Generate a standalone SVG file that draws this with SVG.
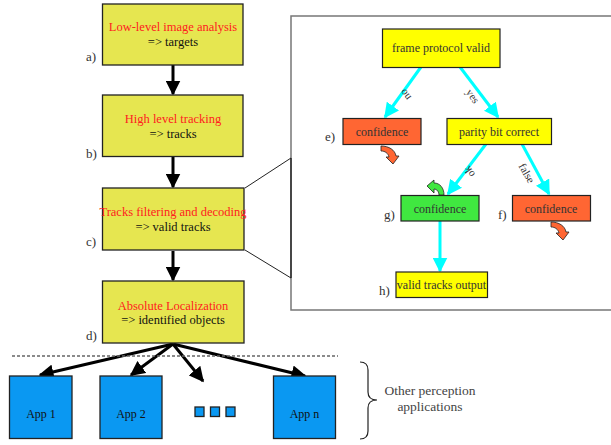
<svg xmlns="http://www.w3.org/2000/svg" width="611" height="445" viewBox="0 0 611 445">
<defs>
<marker id="ab" markerWidth="5" markerHeight="5" refX="4.5" refY="2.5" orient="auto" markerUnits="strokeWidth"><path d="M0,0 L5,2.5 L0,5 Z" fill="#000"/></marker>
<marker id="ac" markerWidth="5" markerHeight="5" refX="4.5" refY="2.5" orient="auto" markerUnits="strokeWidth"><path d="M0,0 L5,2.5 L0,5 Z" fill="#00ffff"/></marker>
<style>
.st{fill:#e6e650;stroke:#222;stroke-width:1.3}
.red{fill:#ff2020;font-size:12.5px;text-anchor:middle}
.blk{fill:#111;font-size:12.5px;text-anchor:middle}
.lbl{fill:#333;font-size:13px}
.dt{fill:#333;font-size:12px;text-anchor:middle}
.rl{fill:#333;font-size:11px;text-anchor:middle;dominant-baseline:central}
.cy{stroke:#00ffff;stroke-width:3;fill:none;marker-end:url(#ac)}
.bk{stroke:#000;stroke-width:3;fill:none;marker-end:url(#ab)}
.app{fill:#0a98f2;stroke:#222;stroke-width:1.3}
.at{fill:#111;font-size:12px;text-anchor:middle}
</style>
</defs>
<g font-family="'Liberation Serif', 'Times New Roman', serif">
<rect width="611" height="445" fill="#fff"/>
<g id="panel">
<path d="M611,16 L291,16 L291,310 L611,310" fill="none" stroke="#777" stroke-width="1.5"/>
<line x1="291" y1="158" x2="291" y2="278" stroke="#333" stroke-width="1.6"/>
<line x1="245" y1="188" x2="291" y2="158" stroke="#222" stroke-width="1"/>
<line x1="245" y1="250" x2="291" y2="278" stroke="#222" stroke-width="1"/>
</g>
<g id="connectors">
<line class="bk" x1="173" y1="65" x2="173" y2="94"/>
<line class="bk" x1="173" y1="157" x2="173" y2="187"/>
<line class="bk" x1="173" y1="251" x2="173" y2="280"/>
<line class="bk" x1="173" y1="344" x2="40" y2="375" stroke-width="2.5"/>
<line class="bk" x1="173" y1="344" x2="131" y2="375" stroke-width="2.5"/>
<line class="bk" x1="173" y1="344" x2="203" y2="381" stroke-width="2.5"/>
<line class="bk" x1="173" y1="344" x2="305" y2="376" stroke-width="2.5"/>
<line class="cy" x1="421" y1="67" x2="385" y2="117"/>
<line class="cy" x1="460" y1="67" x2="498" y2="117"/>
<line class="cy" x1="486" y1="144" x2="448" y2="194"/>
<line class="cy" x1="522" y1="144" x2="549" y2="194"/>
<line class="cy" x1="440" y1="221" x2="440" y2="271"/>
<text class="rl" transform="translate(405,95) rotate(-125)">no</text>
<text class="rl" transform="translate(473,96) rotate(55)">yes</text>
<text class="rl" transform="translate(469,172) rotate(-125)">ok</text>
<text class="rl" transform="translate(527,173) rotate(60)">false</text>
</g>
<g id="a">
<rect class="st" x="102.5" y="4" width="140.5" height="61"/>
<text class="red" x="173" y="31">Low-level image analysis</text>
<text class="blk" x="173" y="46">=&gt; targets</text>
<text class="lbl" x="86" y="61">a)</text>
</g>
<g id="b">
<rect class="st" x="102.5" y="95" width="140.5" height="61.5"/>
<text class="red" x="173" y="123">High level tracking</text>
<text class="blk" x="173" y="138">=&gt; tracks</text>
<text class="lbl" x="86" y="158">b)</text>
</g>
<g id="c">
<rect class="st" x="102.5" y="188" width="141.5" height="62"/>
<text class="red" x="173" y="216">Tracks filtering and decoding</text>
<text class="blk" x="173" y="231">=&gt; valid tracks</text>
<text class="lbl" x="86" y="246">c)</text>
</g>
<g id="d">
<rect class="st" x="102.5" y="281" width="141.5" height="62"/>
<text class="red" x="173" y="310">Absolute Localization</text>
<text class="blk" x="173" y="324">=&gt; identified objects</text>
<text class="lbl" x="86" y="340">d)</text>
</g>
<g id="frame">
<rect x="382.5" y="29" width="117.5" height="38.5" fill="#ffff00" stroke="#222" stroke-width="1.2"/>
<text class="dt" x="441" y="52">frame protocol valid</text>
</g>
<g id="e">
<rect x="343" y="118.5" width="78" height="26" fill="#ff6633" stroke="#222" stroke-width="1.2"/>
<text class="dt" x="382" y="136">confidence</text>
<text class="lbl" x="325" y="141">e)</text>
<path d="M381,146 C389,146 395,150 396,156 L399,156 L393,164 L386,157 L389,157 C388,153 385,151 381,151 Z" fill="#ff6633" stroke="#222" stroke-width="0.8"/>
</g>
<g id="parity">
<rect x="447" y="118.5" width="104.5" height="26" fill="#ffff00" stroke="#222" stroke-width="1.2"/>
<text class="dt" x="499" y="136">parity bit correct</text>
</g>
<g id="g">
<rect x="401" y="195.5" width="78" height="25.5" fill="#40e840" stroke="#222" stroke-width="1.2"/>
<text class="dt" x="440" y="213">confidence</text>
<text class="lbl" x="384" y="219">g)</text>
<path d="M444,195 C444,188 440,183 434,183 L434,180 L427,186 L434,193 L434,189 C437,189 439,192 439,195 Z" fill="#40e840" stroke="#222" stroke-width="0.8"/>
</g>
<g id="f">
<rect x="512.5" y="195.5" width="78" height="25.5" fill="#ff6633" stroke="#222" stroke-width="1.2"/>
<text class="dt" x="551" y="213">confidence</text>
<text class="lbl" x="498" y="219">f)</text>
<path d="M551,222 C559,222 565,226 566,232 L569,232 L563,240 L556,233 L559,233 C558,229 555,227 551,227 Z" fill="#ff6633" stroke="#222" stroke-width="0.8"/>
</g>
<g id="h">
<rect x="396" y="272" width="91.5" height="25.5" fill="#ffff00" stroke="#222" stroke-width="1.2"/>
<text class="dt" x="441.5" y="289">valid tracks output</text>
<text class="lbl" x="379" y="295">h)</text>
</g>
<g id="apps">
<line x1="12" y1="356" x2="338" y2="356" stroke="#666" stroke-width="1.5" stroke-dasharray="3,2"/>
<g id="app1"><rect class="app" x="9.5" y="376" width="62.5" height="62.5"/><text class="at" x="41" y="418">App 1</text></g>
<g id="app2"><rect class="app" x="100" y="376" width="62" height="62.5"/><text class="at" x="131" y="418">App 2</text></g>
<g id="dots">
<rect class="app" x="195" y="407" width="9" height="9.5" stroke-width="1"/>
<rect class="app" x="210.5" y="407" width="9" height="9.5" stroke-width="1"/>
<rect class="app" x="226" y="407" width="9" height="9.5" stroke-width="1"/>
</g>
<g id="appn"><rect class="app" x="273.5" y="376" width="62" height="62.5"/><text class="at" x="304.5" y="418">App n</text></g>
</g>
<g id="brace">
<path d="M360,362 C366,362 368,365 368,370 L368,392 C368,398 371,400 377,400 C371,400 368,402 368,408 L368,431 C368,436 366,439 360,439" fill="none" stroke="#222" stroke-width="1.2"/>
<text x="430" y="395" fill="#444" font-size="13.5" text-anchor="middle">Other perception</text>
<text x="430" y="411" fill="#444" font-size="13.5" text-anchor="middle">applications</text>
</g>
</g>
</svg>
